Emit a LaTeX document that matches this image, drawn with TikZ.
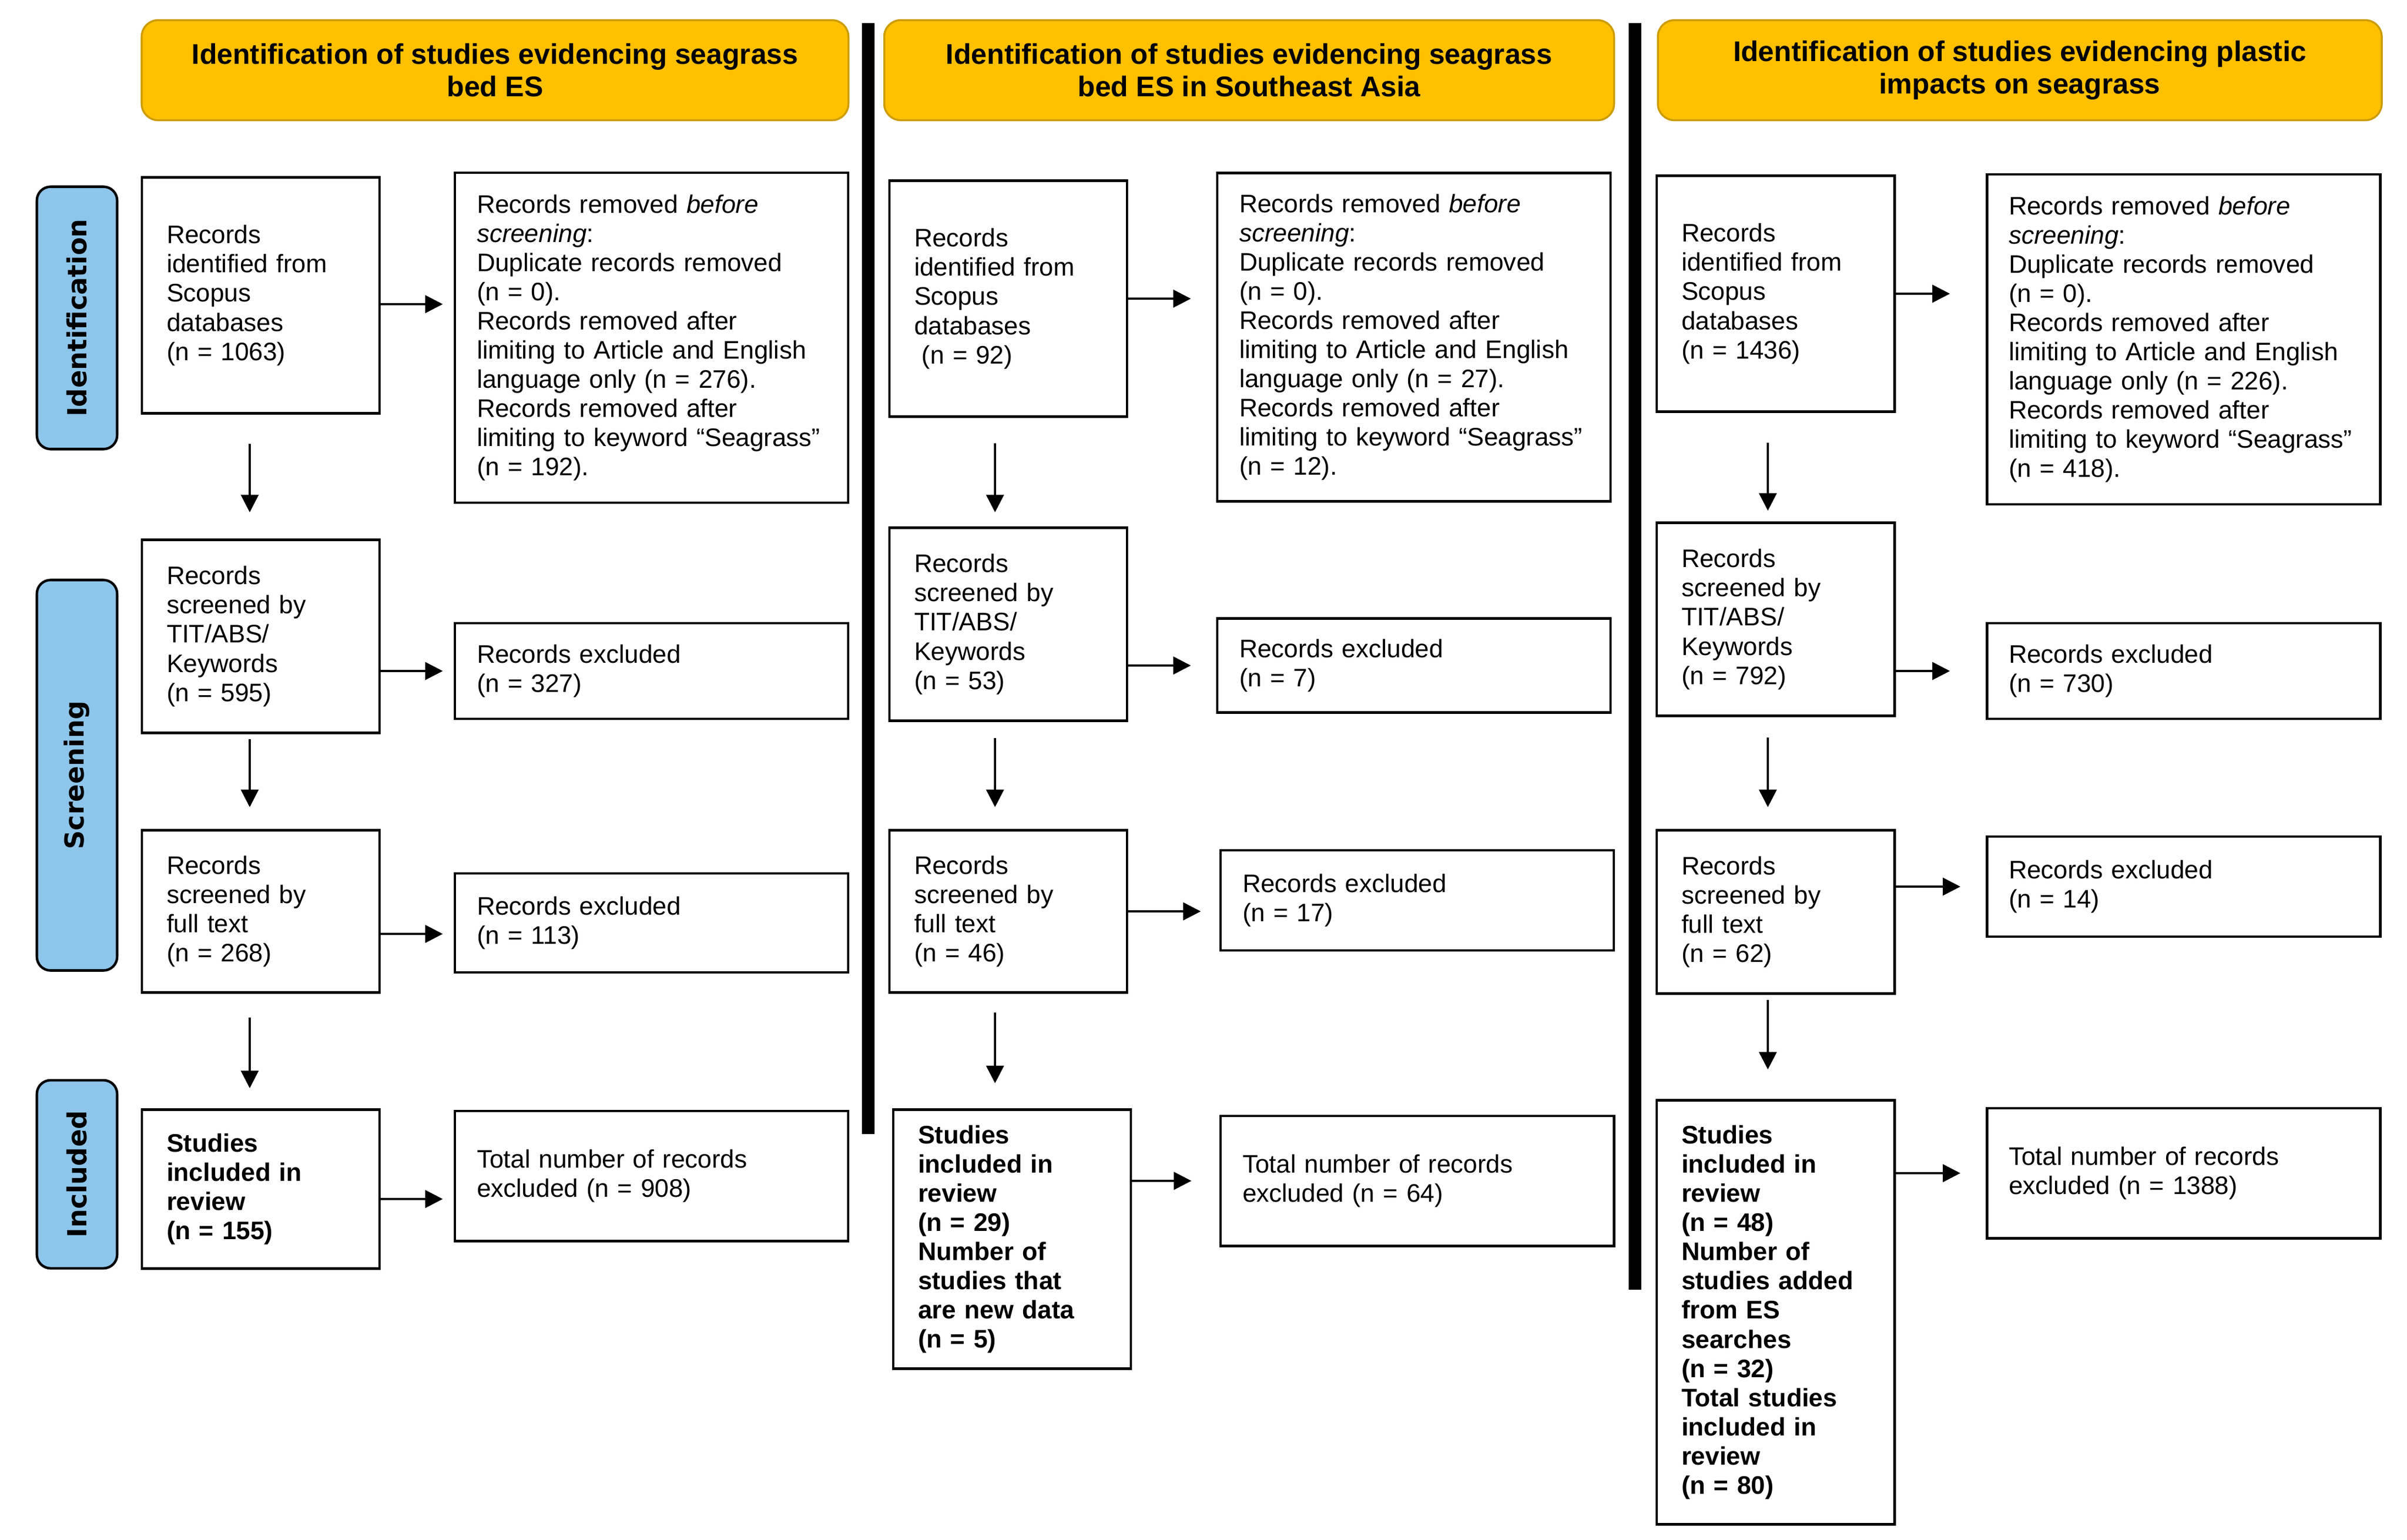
\documentclass[tikz,border=0pt]{standalone}
\usepackage{fontspec}
\setmainfont{Liberation Sans}
\newfontfamily\sidefont{DejaVu Sans}
\usetikzlibrary{positioning, arrows.meta}
\definecolor{headfill}{HTML}{FFC000}
\definecolor{headline}{HTML}{CC9C00}
\definecolor{phasefill}{HTML}{8EC5EA}
\tikzset{
	>={Triangle[length=0.32cm, width=0.32cm]},
	flow/.style={->, line width=1.1pt},
	heading/.style={draw=headline, line width=1pt, fill=headfill, rounded corners=0.3cm, minimum height=1.82cm, align=center, font=\fontsize{14.7}{16.9}\selectfont\bfseries},
	phase/.style={draw, line width=1.3pt, fill=phasefill, rounded corners=0.25cm, rotate=90, minimum height=1.46cm, font=\sidefont\fontsize{13.6}{16}\selectfont\bfseries},
	record/.style={draw, line width=1.4pt, outer sep=0pt, minimum width=4.32cm, text width=3.42cm, inner xsep=0.45cm, align=left, font=\fontsize{13.1}{15.1}\selectfont},
	included/.style={record, font=\fontsize{13.1}{15.1}\selectfont\bfseries},
	removed/.style={record, minimum width=7.15cm, text width=6.35cm, inner xsep=0.4cm},
}

\begin{document}
\begin{tikzpicture}
	\useasboundingbox (0,0) rectangle (43.76,-27.99);

	% headings and phases
	\node[heading, minimum width=12.85cm] (HEAD1) at (9.00,-1.276) {Identification of studies evidencing seagrass\\bed ES};
	\node[heading, minimum width=13.27cm] (HEAD2) at (22.71,-1.276) {Identification of studies evidencing seagrass\\bed ES in Southeast Asia};
	\node[heading, minimum width=13.16cm] (HEAD3) at (36.72,-1.276) {Identification of studies evidencing plastic\\impacts on seagrass};
	\node[phase, minimum width=4.77cm] (IDENT) at (1.40,-5.78) {Identification};
	\node[phase, minimum width=7.10cm] (SCREEN) at (1.40,-14.095) {Screening};
	\node[phase, minimum width=3.42cm] (INCL) at (1.40,-21.35) {Included};

	\draw[line width=0.23cm] (15.78,-0.42) -- (15.78,-20.62);
	\draw[line width=0.23cm] (29.72,-0.42) -- (29.72,-23.45);

	% column 1
	\node[record, minimum height=4.29cm] (SRC1) at (4.74,-5.37) {Records\\identified from\\Scopus\\databases\\(n = 1063)};
	\node[removed, minimum height=6.00cm, right=1.37cm of SRC1, yshift=-0.77cm] (RMV1) {Records removed \textit{before}\\\textit{screening}:\\Duplicate records removed\\(n = 0).\\Records removed after\\limiting to Article and English\\language only (n = 276).\\Records removed after\\limiting to keyword “Seagrass”\\(n = 192).};
	\node[record, minimum height=3.51cm, below=2.30cm of SRC1] (TA1) {Records\\screened by\\TIT/ABS/\\Keywords\\(n = 595)};
	\node[removed, minimum height=1.74cm, right=1.37cm of TA1, yshift=-0.63cm] (TAX1) {Records excluded\\(n = 327)};
	\node[record, minimum height=2.95cm, below=1.77cm of TA1] (FT1) {Records\\screened by\\full text\\(n = 268)};
	\node[removed, minimum height=1.80cm, right=1.37cm of FT1, yshift=-0.21cm] (FTX1) {Records excluded\\(n = 113)};
	\node[included, minimum height=2.89cm, below=2.13cm of FT1] (INC1) {Studies\\included in\\review\\(n = 155)};
	\node[removed, minimum height=2.36cm, right=1.37cm of INC1, yshift=0.24cm] (TOT1) {Total number of records\\excluded (n = 908)};

	\draw[flow, shorten >=0.22cm] ([yshift=-0.16cm]SRC1.east) -- ([yshift=-0.16cm]SRC1.east -| RMV1.west);
	\draw[flow, shorten >=0.22cm] (TA1.east |- TAX1.west) -- (TAX1.west);
	\draw[flow, shorten >=0.22cm] ([yshift=-0.2cm]FT1.east |- FTX1.west) -- ([yshift=-0.2cm]FTX1.west);
	\draw[flow, shorten >=0.22cm] ([yshift=-0.18cm]INC1.east) -- ([yshift=-0.18cm]INC1.east -| TOT1.west);
	\draw[flow, shorten <=0.55cm, shorten >=0.50cm] ([xshift=-0.2cm]SRC1.south) -- ([xshift=-0.2cm]SRC1.south |- TA1.north);
	\draw[flow, shorten <=0.11cm, shorten >=0.42cm] ([xshift=-0.2cm]TA1.south) -- ([xshift=-0.2cm]TA1.south |- FT1.north);
	\draw[flow, shorten <=0.45cm, shorten >=0.39cm] ([xshift=-0.2cm]FT1.south) -- ([xshift=-0.2cm]FT1.south |- INC1.north);

	% column 2
	\node[record, minimum height=4.29cm] (SRC2) at (18.33,-5.43) {Records\\identified from\\Scopus\\databases\\\hspace*{0.3em}(n = 92)};
	\node[removed, minimum height=5.97cm, right=1.64cm of SRC2, yshift=-0.70cm] (RMV2) {Records removed \textit{before}\\\textit{screening}:\\Duplicate records removed\\(n = 0).\\Records removed after\\limiting to Article and English\\language only (n = 27).\\Records removed after\\limiting to keyword “Seagrass”\\(n = 12).};
	\node[record, minimum height=3.51cm, below=2.02cm of SRC2] (TA2) {Records\\screened by\\TIT/ABS/\\Keywords\\(n = 53)};
	\node[removed, minimum height=1.71cm, right=1.64cm of TA2, yshift=-0.75cm] (TAX2) {Records excluded\\(n = 7)};
	\node[record, minimum height=2.95cm, below=1.99cm of TA2] (FT2) {Records\\screened by\\full text\\(n = 46)};
	\node[removed, minimum height=1.82cm, right=1.70cm of FT2, yshift=0.20cm] (FTX2) {Records excluded\\(n = 17)};
	\node[included, minimum height=4.71cm, below=2.13cm of FT2, xshift=0.07cm] (INC2) {Studies\\included in\\review\\(n = 29)\\Number of\\studies that\\are new data\\(n = 5)};
	\node[removed, minimum height=2.36cm, right=1.63cm of INC2, yshift=1.06cm] (TOT2) {Total number of records\\excluded (n = 64)};

	\draw[flow, shorten >=0.48cm] (SRC2.east) -- (SRC2.east -| RMV2.west);
	\draw[flow, shorten >=0.48cm] (TA2.east |- TAX2.west) -- (TAX2.west);
	\draw[flow, shorten >=0.36cm] (FT2.east) -- (FT2.east -| FTX2.west);
	\draw[flow, shorten >=0.53cm] (INC2.east |- TOT2.west) -- (TOT2.west);
	\draw[flow, shorten <=0.48cm, shorten >=0.28cm] ([xshift=-0.24cm]SRC2.south) -- ([xshift=-0.24cm]SRC2.south |- TA2.north);
	\draw[flow, shorten <=0.31cm, shorten >=0.42cm] ([xshift=-0.24cm]TA2.south) -- ([xshift=-0.24cm]TA2.south |- FT2.north);
	\draw[flow, shorten <=0.36cm, shorten >=0.48cm] ([xshift=-0.24cm]FT2.south) -- ([xshift=-0.24cm]FT2.south |- INC2.north);

	% column 3
	\node[record, minimum height=4.29cm] (SRC3) at (32.28,-5.34) {Records\\identified from\\Scopus\\databases\\(n = 1436)};
	\node[removed, minimum height=6.00cm, right=1.68cm of SRC3, yshift=-0.83cm] (RMV3) {Records removed \textit{before}\\\textit{screening}:\\Duplicate records removed\\(n = 0).\\Records removed after\\limiting to Article and English\\language only (n = 226).\\Records removed after\\limiting to keyword “Seagrass”\\(n = 418).};
	\node[record, minimum height=3.51cm, below=2.02cm of SRC3] (TA3) {Records\\screened by\\TIT/ABS/\\Keywords\\(n = 792)};
	\node[removed, minimum height=1.74cm, right=1.68cm of TA3, yshift=-0.94cm] (TAX3) {Records excluded\\(n = 730)};
	\node[record, minimum height=2.97cm, below=2.08cm of TA3] (FT3) {Records\\screened by\\full text\\(n = 62)};
	\node[removed, minimum height=1.82cm, right=1.68cm of FT3, yshift=0.46cm] (FTX3) {Records excluded\\(n = 14)};
	\node[included, minimum height=7.71cm, below=1.94cm of FT3] (INC3) {Studies\\included in\\review\\(n = 48)\\Number of\\studies added\\from ES\\searches\\(n = 32)\\Total studies\\included in\\review\\(n = 80)};
	\node[removed, minimum height=2.36cm, right=1.68cm of INC3, yshift=2.53cm] (TOT3) {Total number of records\\excluded (n = 1388)};

	\draw[flow, shorten >=0.67cm] (SRC3.east) -- (SRC3.east -| RMV3.west);
	\draw[flow, shorten >=0.67cm] (TA3.east |- TAX3.west) -- (TAX3.west);
	\draw[flow, shorten >=0.48cm] (FT3.east |- FTX3.west) -- (FTX3.west);
	\draw[flow, shorten >=0.48cm] (INC3.east |- TOT3.west) -- (TOT3.west);
	\draw[flow, shorten <=0.56cm, shorten >=0.22cm] ([xshift=-0.14cm]SRC3.south) -- ([xshift=-0.14cm]SRC3.south |- TA3.north);
	\draw[flow, shorten <=0.39cm, shorten >=0.42cm] ([xshift=-0.14cm]TA3.south) -- ([xshift=-0.14cm]TA3.south |- FT3.north);
	\draw[flow, shorten <=0.11cm, shorten >=0.56cm] ([xshift=-0.14cm]FT3.south) -- ([xshift=-0.14cm]FT3.south |- INC3.north);
\end{tikzpicture}
\end{document}
